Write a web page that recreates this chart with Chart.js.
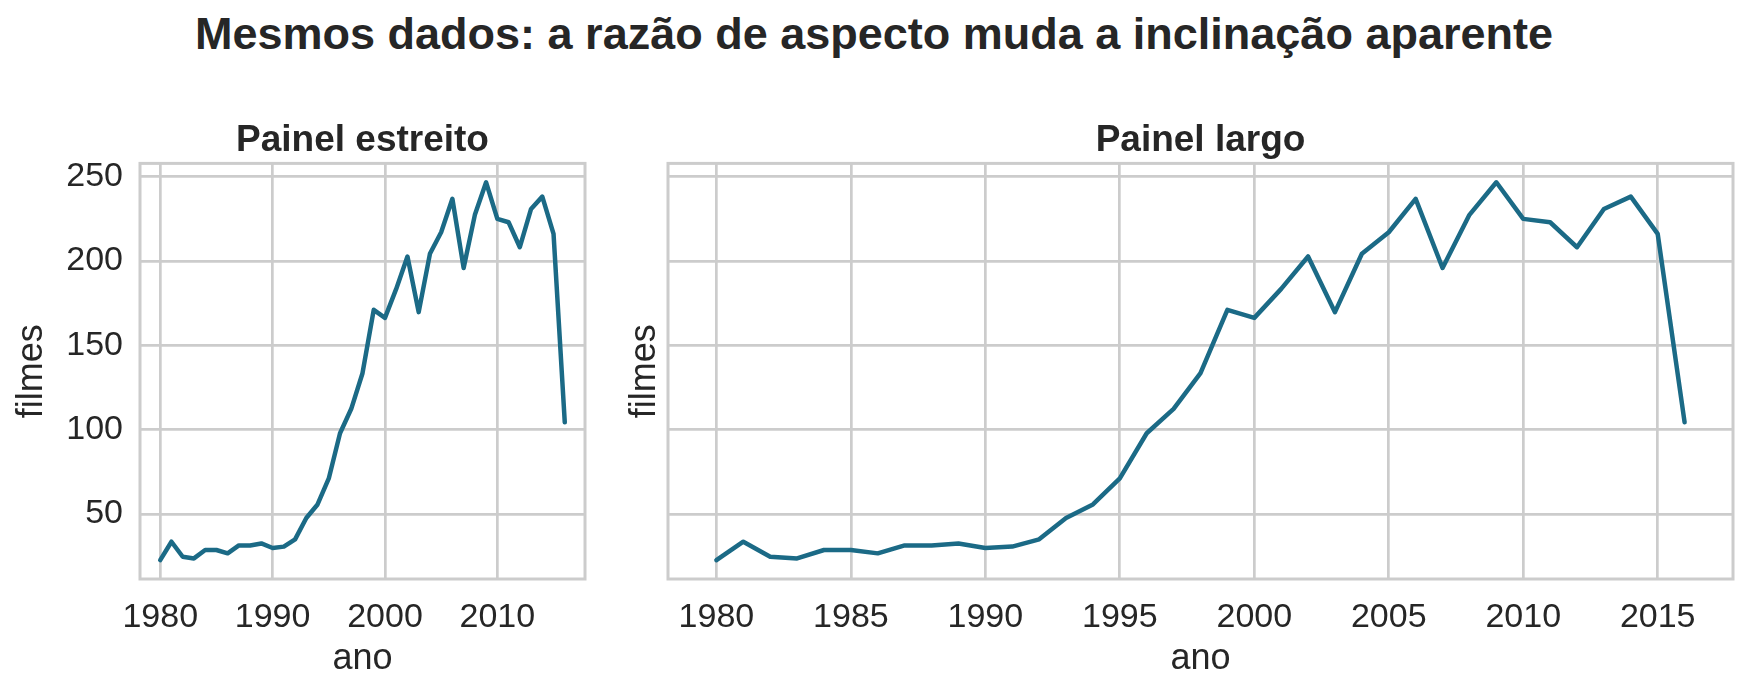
<!DOCTYPE html>
<html>
<head>
<meta charset="utf-8">
<script src="https://cdn.jsdelivr.net/npm/chart.js@4.4.1/dist/chart.umd.min.js"></script>
<style>
  body { margin: 0; background: #fff; width: 1748px; height: 693px; overflow: hidden; position: relative; }
  #titulo {
    position: absolute; left: 0; top: 11px; width: 1748px; text-align: center;
    font-family: "Liberation Sans", Arial, sans-serif; font-weight: bold; font-size: 45px;
    line-height: 45px; color: #262626;
  }
  #estreito { position: absolute; left: 0; top: 0; }
  #largo { position: absolute; left: 600px; top: 0; }
</style>
</head>
<body>
<div id="titulo">Mesmos dados: a razão de aspecto muda a inclinação aparente</div>
<canvas id="estreito" width="600" height="693"></canvas>
<canvas id="largo" width="1148" height="693"></canvas>
<script>
// dados
var anos = [1980, 1981, 1982, 1983, 1984, 1985, 1986, 1987, 1988, 1989,
            1990, 1991, 1992, 1993, 1994, 1995, 1996, 1997, 1998, 1999,
            2000, 2001, 2002, 2003, 2004, 2005, 2006, 2007, 2008, 2009,
            2010, 2011, 2012, 2013, 2014, 2015, 2016];
var filmes = [22.6, 33.5, 24.6, 23.6, 28.6, 28.6, 26.6, 31.3, 31.3, 32.5,
              29.8, 30.6, 34.9, 47.6, 55.6, 71, 97.8, 112.3, 133.4, 171,
              166.2, 183.4, 202.6, 169.6, 204.2, 217, 236.8, 195.8, 227.3, 246.6,
              224.9, 222.9, 208.1, 230.8, 238.1, 216, 104.3];
var yTicks = [50, 100, 150, 200, 250];
var xTicksEstreito = [1980, 1990, 2000, 2010];
var xTicksLargo = [1980, 1985, 1990, 1995, 2000, 2005, 2010, 2015];

var fonte = '"Liberation Sans", Arial, sans-serif';
var texto = '#262626';
var grade = '#cccccc';
var corLinha = '#1b6a86';

// moldura dos eixos (todos os 4 lados)
var moldura = {
  id: 'moldura',
  afterDraw: function(chart) {
    var a = chart.chartArea, ctx = chart.ctx;
    ctx.save();
    ctx.strokeStyle = grade;
    ctx.lineWidth = 3;
    ctx.strokeRect(a.left, a.top, a.right - a.left, a.bottom - a.top);
    ctx.restore();
  }
};

function painel(id, titulo, xTicks, mostraY, larguraY, padTituloY) {
  var ctx = document.getElementById(id).getContext('2d');
  return new Chart(ctx, {
    type: 'line',
    data: {
      datasets: [{
        data: anos.map(function(a, i) { return { x: a, y: filmes[i] }; }),
        borderColor: corLinha,
        borderWidth: 4.5,
        pointRadius: 0,
        tension: 0,
        fill: false,
        borderJoinStyle: 'round',
        borderCapStyle: 'round'
      }]
    },
    options: {
      responsive: false,
      animation: false,
      devicePixelRatio: 1,
      layout: { padding: { top: 100, right: 15, bottom: 0, left: 0 } },
      plugins: {
        legend: { display: false },
        tooltip: { enabled: false },
        title: {
          display: true,
          text: titulo,
          fullSize: false,
          color: texto,
          font: { family: fonte, size: 37, weight: 'bold' },
          padding: { top: 19, bottom: 0 }
        }
      },
      scales: {
        x: {
          type: 'linear',
          min: 1978.2,
          max: 2017.8,
          afterBuildTicks: function(s) { s.ticks = xTicks.map(function(v) { return { value: v }; }); },
          afterFit: function(s) { s.height = 114; },
          grid: { color: grade, lineWidth: 2.7, drawTicks: false },
          border: { display: false },
          ticks: {
            padding: 18,
            color: texto,
            maxRotation: 0,
            font: { family: fonte, size: 34 },
            callback: function(v) { return String(v); }
          },
          title: {
            display: true, text: 'ano', color: texto,
            font: { family: fonte, size: 36 },
            padding: { top: 0, bottom: 12 }
          }
        },
        y: {
          min: 11.4,
          max: 257.8,
          afterBuildTicks: function(s) { s.ticks = yTicks.map(function(v) { return { value: v }; }); },
          afterFit: function(s) { s.width = larguraY; },
          grid: { color: grade, lineWidth: 2.7, drawTicks: false },
          border: { display: false },
          ticks: {
            display: mostraY,
            padding: 17,
            color: texto,
            font: { family: fonte, size: 34 },
            callback: function(v) { return String(v); }
          },
          title: {
            display: true, text: 'filmes', color: texto,
            font: { family: fonte, size: 36 },
            padding: { top: padTituloY, bottom: 0 }
          }
        }
      }
    },
    plugins: [moldura]
  });
}

painel('estreito', 'Painel estreito', xTicksEstreito, true, 140, 10);
painel('largo', 'Painel largo', xTicksLargo, false, 68, 23);
</script>
</body>
</html>
